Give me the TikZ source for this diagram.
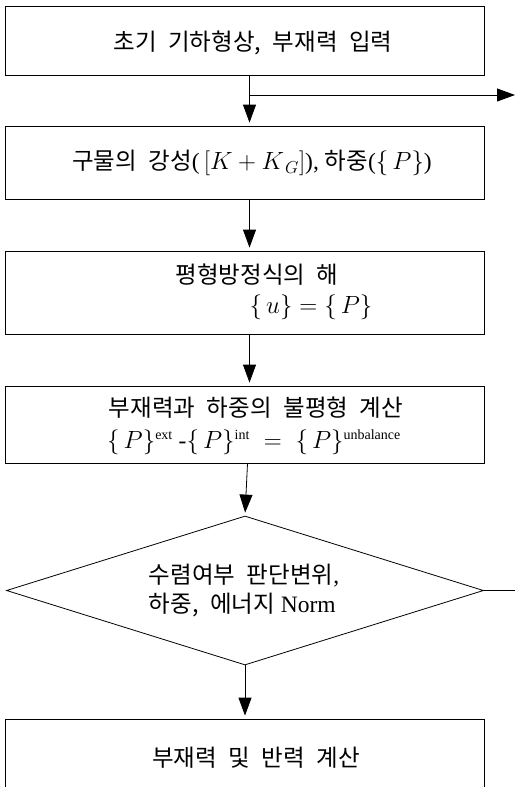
\documentclass[tikz,border=0pt]{standalone}
\usepackage{fontspec}
\setmainfont{Liberation Serif}
\newfontfamily\kr[WordSpace=2.2]{Noto Sans CJK KR}
\usetikzlibrary{arrows.meta,shapes.geometric}
\newcommand{\supt}[1]{\hbox{\fontsize{14}{14}\selectfont #1}}
\tikzset{
  box/.style={draw, line width=0.8pt, minimum width=479pt, inner sep=0pt},
  lbl/.style={inner sep=0pt, font=\fontsize{23.5}{29}\selectfont},
  arr/.style={-{Triangle[length=18pt,width=13pt]}, line width=0.8pt, shorten >=3pt},
  ln/.style={line width=0.8pt}
}
\begin{document}
\begin{tikzpicture}[x=1pt,y=-1pt]
\clip (0,0) rectangle (515,787);
\fill[white] (0,0) rectangle (515,787);
% boxes
\node[box, minimum height=69pt] (b1) at (244.5,40.5) {};
\node[lbl] (t1) at (253,43) {\kr 초기 기하형상, 부재력 입력};
\node[box, minimum height=73pt] (b2) at (244.5,162.5) {};
\node[lbl] (t2) at (252,163) {{\kr 구물의 강성}($\,[K+K_{\,G}]$), {\kr 하중}($\{\,P\}$)};
\node[box, minimum height=83pt] (b3) at (244.5,292.5) {};
\node[lbl] (t3a) at (257,275) {\kr 평형방정식의 해};
\node[lbl] (t3b) at (311,307) {$\{\,u\} = \{\,P\}$};
\node[box, minimum height=77pt] (b4) at (244.5,424.5) {};
\node[lbl] (t4a) at (256,408) {\kr 부재력과 하중의 불평형 계산};
\node[lbl] (t4b) at (254,442) {$\{\,P\}^{\supt{ext}}\ \hbox{-}\{\,P\}^{\supt{int}}\;=\;\{\,P\}^{\supt{unbalance}}$};
\node[diamond, draw, line width=0.8pt, inner sep=0pt, minimum width=477pt, minimum height=149pt] (d) at (245,590.5) {};
\node[lbl, align=left] (td) at (244,591) {{\kr 수렴여부 판단변위},\\{\kr 하중, 에너지} Norm};
\node[box, minimum height=82pt] (b5) at (245,760) {};
\node[lbl] (t5) at (256,758) {\kr 부재력 및 반력 계산};
% connectors
\coordinate (j) at (249.5,95);
\coordinate (e1) at (515,95);
\coordinate (e2) at (515,590.5);
\draw[arr] ([xshift=5pt]b1.south) -- ([xshift=5pt]b2.north);
\draw[arr] (j) -- ([xshift=3pt]e1);
\draw[arr] ([xshift=5pt]b2.south) -- ([xshift=5pt]b3.north);
\draw[arr] ([xshift=5pt]b3.south) -- ([xshift=5pt]b4.north);
\draw[arr] ([xshift=3pt]b4.south) -- (d.north);
\draw[arr] (d.south) -- (d.south |- b5.north);
\draw[ln] (d.east) -- (e2);
\end{tikzpicture}
\end{document}
